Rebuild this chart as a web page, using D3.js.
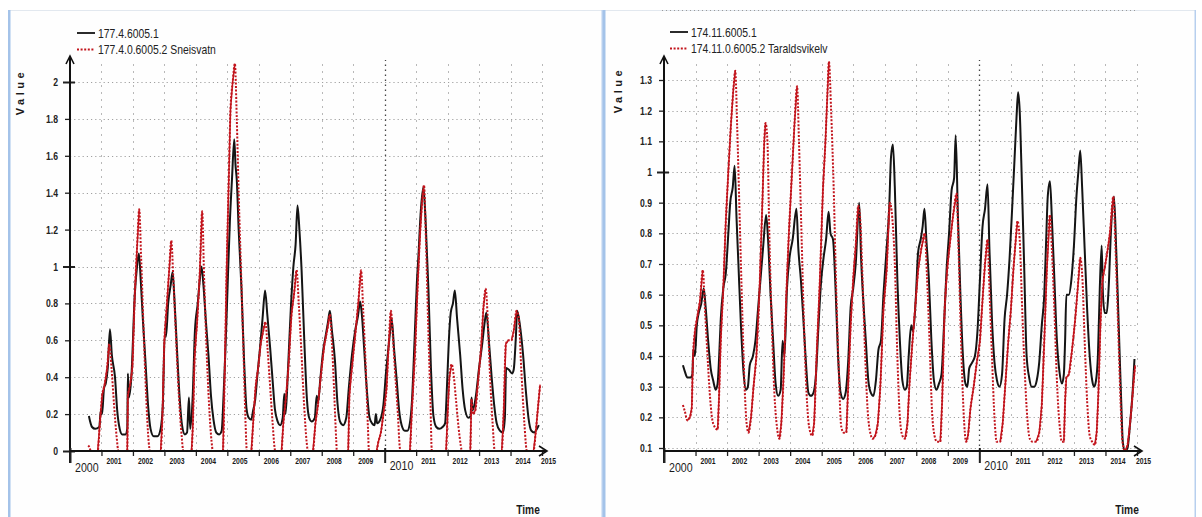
<!DOCTYPE html>
<html>
<head>
<meta charset="utf-8">
<script src="https://cdn.jsdelivr.net/npm/d3@7"></script>
<style>
    html, body { margin: 0; padding: 0; background: #fff; }
    svg { display: block; }
    text { font-family: "Liberation Sans", "DejaVu Sans", sans-serif; fill: #1a1a1a; }
</style>
</head>
<body>
<svg id="chart" width="1202" height="517"></svg>
<script>
let years = d3.range(2000, 2016),
    bigYears = [2000, 2010],
    leftYTicks = [0, 0.2, 0.4, 0.6, 0.8, 1, 1.2, 1.4, 1.6, 1.8, 2],
    rightYTicks = [0.1, 0.2, 0.3, 0.4, 0.5, 0.6, 0.7, 0.8, 0.9, 1, 1.1, 1.2, 1.3],
    leftNames = ["177.4.6005.1", "177.4.0.6005.2 Sneisvatn"],
    rightNames = ["174.11.6005.1", "174.11.0.6005.2 Taraldsvikelv"];

// [decimal year, value]
let sneisBlack = [
    [2000.60, 0.19], [2000.70, 0.13], [2000.80, 0.12], [2000.93, 0.13], [2000.98, 0.22], [2001.02, 0.20],
    [2001.08, 0.34], [2001.14, 0.37], [2001.20, 0.45], [2001.27, 0.66], [2001.33, 0.52], [2001.43, 0.40],
    [2001.50, 0.22], [2001.58, 0.12], [2001.66, 0.09], [2001.76, 0.09], [2001.82, 0.12], [2001.84, 0.42],
    [2001.87, 0.29], [2001.95, 0.40], [2002.06, 0.85], [2002.13, 1.00], [2002.19, 1.07], [2002.25, 0.92],
    [2002.32, 0.70], [2002.40, 0.48], [2002.48, 0.25], [2002.56, 0.12], [2002.66, 0.08], [2002.78, 0.08],
    [2002.88, 0.12], [2002.95, 0.25], [2003.01, 0.63], [2003.05, 0.62], [2003.12, 0.80], [2003.20, 0.90],
    [2003.26, 0.97], [2003.32, 0.82], [2003.40, 0.55], [2003.48, 0.30], [2003.56, 0.14], [2003.65, 0.09],
    [2003.72, 0.10], [2003.78, 0.29], [2003.82, 0.12], [2003.90, 0.30], [2003.97, 0.65], [2004.06, 0.80],
    [2004.12, 0.92], [2004.18, 1.00], [2004.24, 0.90], [2004.32, 0.70], [2004.40, 0.52], [2004.48, 0.30],
    [2004.56, 0.17], [2004.65, 0.10], [2004.74, 0.09], [2004.82, 0.11], [2004.88, 0.30], [2004.94, 0.55],
    [2005.02, 0.95], [2005.08, 1.24], [2005.15, 1.48], [2005.22, 1.69], [2005.26, 1.55], [2005.30, 1.47],
    [2005.36, 1.20], [2005.45, 0.88], [2005.53, 0.50], [2005.61, 0.23], [2005.68, 0.18], [2005.76, 0.17],
    [2005.82, 0.22], [2005.88, 0.27], [2005.96, 0.42], [2006.04, 0.56], [2006.12, 0.72], [2006.20, 0.87],
    [2006.27, 0.74], [2006.36, 0.56], [2006.44, 0.38], [2006.51, 0.23], [2006.60, 0.16], [2006.68, 0.14],
    [2006.76, 0.18], [2006.81, 0.31], [2006.85, 0.20], [2006.93, 0.45], [2007.02, 0.78], [2007.10, 1.00],
    [2007.17, 1.12], [2007.23, 1.33], [2007.29, 1.20], [2007.36, 0.98], [2007.45, 0.58], [2007.53, 0.28],
    [2007.60, 0.18], [2007.68, 0.16], [2007.78, 0.18], [2007.84, 0.30], [2007.88, 0.26], [2007.96, 0.40],
    [2008.05, 0.55], [2008.12, 0.62], [2008.20, 0.70], [2008.26, 0.76], [2008.32, 0.66], [2008.42, 0.49],
    [2008.50, 0.26], [2008.58, 0.16], [2008.68, 0.14], [2008.78, 0.18], [2008.86, 0.34], [2008.96, 0.52],
    [2009.06, 0.65], [2009.15, 0.73], [2009.22, 0.81], [2009.27, 0.75], [2009.35, 0.55], [2009.43, 0.34],
    [2009.52, 0.18], [2009.60, 0.15], [2009.68, 0.14], [2009.72, 0.20], [2009.76, 0.15], [2009.86, 0.17],
    [2009.96, 0.25], [2010.04, 0.42], [2010.12, 0.56], [2010.18, 0.66], [2010.22, 0.72], [2010.30, 0.55],
    [2010.38, 0.39], [2010.46, 0.22], [2010.54, 0.14], [2010.64, 0.11], [2010.72, 0.11], [2010.80, 0.15],
    [2010.86, 0.25], [2010.95, 0.60], [2011.02, 0.90], [2011.08, 1.08], [2011.14, 1.28], [2011.23, 1.43],
    [2011.30, 1.25], [2011.39, 0.88], [2011.47, 0.45], [2011.55, 0.19], [2011.64, 0.13], [2011.74, 0.12],
    [2011.84, 0.13], [2011.92, 0.15], [2011.98, 0.35], [2012.04, 0.60], [2012.10, 0.75], [2012.17, 0.80],
    [2012.23, 0.87], [2012.30, 0.72], [2012.40, 0.52], [2012.48, 0.33], [2012.56, 0.22], [2012.66, 0.18],
    [2012.73, 0.19], [2012.76, 0.29], [2012.80, 0.22], [2012.90, 0.30], [2013.00, 0.45], [2013.10, 0.58],
    [2013.18, 0.70], [2013.23, 0.75], [2013.32, 0.58], [2013.40, 0.40], [2013.48, 0.25], [2013.56, 0.15],
    [2013.66, 0.11], [2013.76, 0.10], [2013.82, 0.18], [2013.86, 0.45], [2013.95, 0.44], [2014.05, 0.42],
    [2014.10, 0.44], [2014.17, 0.62], [2014.21, 0.76], [2014.30, 0.68], [2014.40, 0.52], [2014.49, 0.32],
    [2014.57, 0.18], [2014.66, 0.11], [2014.75, 0.10], [2014.84, 0.12], [2014.90, 0.14]
];

let sneisRed = [
    [2000.58, 0.03], [2000.62, 0.02], [2000.66, 0.00], [2000.88, 0.00], [2000.95, 0.15], [2001.02, 0.30],
    [2001.10, 0.36], [2001.18, 0.45], [2001.25, 0.58], [2001.32, 0.45], [2001.40, 0.25], [2001.48, 0.08],
    [2001.54, 0.00], [2001.82, 0.00], [2001.84, 0.30], [2001.90, 0.35], [2001.98, 0.45], [2002.06, 0.85],
    [2002.13, 1.10], [2002.20, 1.31], [2002.26, 1.05], [2002.33, 0.70], [2002.42, 0.30], [2002.50, 0.05],
    [2002.54, 0.00], [2002.88, 0.00], [2002.93, 0.15], [2003.00, 0.60], [2003.06, 0.75], [2003.14, 0.95],
    [2003.22, 1.14], [2003.28, 0.95], [2003.36, 0.65], [2003.46, 0.30], [2003.55, 0.08], [2003.60, 0.00],
    [2003.86, 0.00], [2003.90, 0.12], [2003.96, 0.50], [2004.04, 0.70], [2004.12, 0.95], [2004.20, 1.30],
    [2004.26, 0.95], [2004.34, 0.55], [2004.42, 0.25], [2004.50, 0.05], [2004.54, 0.00], [2004.86, 0.00],
    [2004.92, 0.45], [2004.98, 1.00], [2005.05, 1.50], [2005.10, 1.85], [2005.17, 2.00], [2005.24, 2.10],
    [2005.30, 1.80], [2005.36, 1.40], [2005.44, 0.95], [2005.52, 0.50], [2005.58, 0.15], [2005.62, 0.00],
    [2005.76, 0.00], [2005.82, 0.15], [2005.90, 0.35], [2005.98, 0.45], [2006.06, 0.58], [2006.14, 0.65],
    [2006.21, 0.70], [2006.28, 0.55], [2006.36, 0.35], [2006.44, 0.15], [2006.50, 0.02], [2006.52, 0.00],
    [2006.72, 0.00], [2006.78, 0.15], [2006.84, 0.25], [2006.94, 0.45], [2007.04, 0.74], [2007.12, 0.85],
    [2007.20, 0.98], [2007.27, 0.80], [2007.35, 0.55], [2007.44, 0.25], [2007.52, 0.05], [2007.56, 0.00],
    [2007.72, 0.00], [2007.80, 0.15], [2007.88, 0.25], [2007.98, 0.42], [2008.08, 0.57], [2008.18, 0.66],
    [2008.26, 0.74], [2008.32, 0.60], [2008.40, 0.30], [2008.46, 0.06], [2008.48, 0.00], [2008.84, 0.00],
    [2008.88, 0.30], [2008.96, 0.45], [2009.06, 0.62], [2009.16, 0.80], [2009.25, 0.98], [2009.32, 0.75],
    [2009.40, 0.45], [2009.47, 0.12], [2009.50, 0.00], [2009.74, 0.00], [2009.80, 0.05], [2009.88, 0.10],
    [2009.96, 0.20], [2010.06, 0.34], [2010.12, 0.55], [2010.20, 0.76], [2010.26, 0.62], [2010.33, 0.43],
    [2010.42, 0.20], [2010.48, 0.02], [2010.50, 0.00], [2010.80, 0.00], [2010.86, 0.20], [2010.96, 0.52],
    [2011.05, 0.90], [2011.12, 1.16], [2011.19, 1.35], [2011.25, 1.44], [2011.31, 1.15], [2011.38, 0.70],
    [2011.45, 0.30], [2011.50, 0.00], [2011.95, 0.00], [2012.00, 0.20], [2012.06, 0.40], [2012.13, 0.47],
    [2012.20, 0.40], [2012.27, 0.27], [2012.38, 0.08], [2012.46, 0.00], [2012.72, 0.00], [2012.76, 0.28],
    [2012.80, 0.20], [2012.88, 0.22], [2012.98, 0.40], [2013.06, 0.55], [2013.14, 0.78], [2013.21, 0.88],
    [2013.28, 0.70], [2013.35, 0.40], [2013.43, 0.15], [2013.50, 0.00], [2013.72, 0.00], [2013.78, 0.20],
    [2013.85, 0.58], [2013.93, 0.60], [2014.03, 0.60], [2014.10, 0.65], [2014.19, 0.76], [2014.26, 0.72],
    [2014.34, 0.45], [2014.44, 0.15], [2014.52, 0.00], [2014.73, 0.00], [2014.80, 0.10], [2014.88, 0.25],
    [2014.94, 0.36]
];

let taraBlack = [
    [2000.60, 0.37], [2000.66, 0.35], [2000.74, 0.33], [2000.84, 0.33], [2000.90, 0.34], [2000.93, 0.42],
    [2000.98, 0.40], [2001.04, 0.50], [2001.10, 0.54], [2001.18, 0.57], [2001.26, 0.62], [2001.32, 0.56],
    [2001.40, 0.45], [2001.48, 0.36], [2001.56, 0.32], [2001.64, 0.29], [2001.70, 0.31], [2001.75, 0.40],
    [2001.80, 0.52], [2001.88, 0.62], [2001.96, 0.67], [2002.04, 0.80], [2002.10, 0.90], [2002.18, 0.95],
    [2002.24, 1.02], [2002.30, 0.85], [2002.36, 0.70], [2002.44, 0.50], [2002.52, 0.35], [2002.60, 0.29],
    [2002.66, 0.30], [2002.72, 0.37], [2002.82, 0.40], [2002.90, 0.45], [2002.98, 0.55], [2003.06, 0.65],
    [2003.14, 0.75], [2003.24, 0.86], [2003.30, 0.78], [2003.38, 0.60], [2003.46, 0.45], [2003.54, 0.31],
    [2003.62, 0.27], [2003.70, 0.29], [2003.76, 0.45], [2003.82, 0.40], [2003.90, 0.62], [2003.98, 0.72],
    [2004.08, 0.78], [2004.20, 0.88], [2004.26, 0.75], [2004.34, 0.65], [2004.42, 0.52], [2004.50, 0.38],
    [2004.58, 0.28], [2004.66, 0.27], [2004.74, 0.28], [2004.82, 0.34], [2004.90, 0.50], [2004.98, 0.64],
    [2005.06, 0.72], [2005.14, 0.78], [2005.22, 0.87], [2005.28, 0.80], [2005.36, 0.78], [2005.44, 0.62],
    [2005.52, 0.40], [2005.60, 0.28], [2005.68, 0.26], [2005.76, 0.28], [2005.84, 0.38], [2005.92, 0.56],
    [2006.00, 0.62], [2006.08, 0.70], [2006.19, 0.90], [2006.25, 0.72], [2006.32, 0.58], [2006.40, 0.45],
    [2006.48, 0.32], [2006.56, 0.28], [2006.64, 0.27], [2006.72, 0.32], [2006.80, 0.42], [2006.88, 0.45],
    [2006.96, 0.60], [2007.06, 0.75], [2007.14, 0.88], [2007.20, 1.05], [2007.26, 1.09], [2007.32, 0.95],
    [2007.40, 0.65], [2007.48, 0.45], [2007.56, 0.32], [2007.64, 0.29], [2007.70, 0.30], [2007.76, 0.40],
    [2007.84, 0.50], [2007.90, 0.48], [2007.98, 0.58], [2008.06, 0.74], [2008.14, 0.78], [2008.20, 0.82],
    [2008.26, 0.88], [2008.32, 0.78], [2008.40, 0.65], [2008.48, 0.45], [2008.56, 0.32], [2008.64, 0.29],
    [2008.72, 0.31], [2008.80, 0.34], [2008.88, 0.50], [2008.96, 0.68], [2009.04, 0.80], [2009.12, 0.94],
    [2009.20, 0.98], [2009.25, 1.12], [2009.32, 0.86], [2009.40, 0.60], [2009.48, 0.40], [2009.56, 0.31],
    [2009.62, 0.30], [2009.68, 0.36], [2009.78, 0.38], [2009.86, 0.40], [2009.94, 0.48], [2010.02, 0.65],
    [2010.10, 0.82], [2010.18, 0.88], [2010.26, 0.96], [2010.32, 0.75], [2010.40, 0.52], [2010.48, 0.38],
    [2010.56, 0.32], [2010.64, 0.30], [2010.72, 0.34], [2010.80, 0.52], [2010.88, 0.60], [2010.96, 0.72],
    [2011.04, 0.88], [2011.12, 1.05], [2011.18, 1.18], [2011.23, 1.26], [2011.28, 1.20], [2011.34, 1.00],
    [2011.42, 0.70], [2011.50, 0.40], [2011.58, 0.33], [2011.66, 0.30], [2011.74, 0.30], [2011.82, 0.32],
    [2011.90, 0.38], [2011.98, 0.50], [2012.06, 0.60], [2012.12, 0.78], [2012.17, 0.92], [2012.24, 0.97],
    [2012.30, 0.85], [2012.38, 0.65], [2012.46, 0.45], [2012.54, 0.35], [2012.62, 0.31], [2012.68, 0.34],
    [2012.72, 0.45], [2012.76, 0.60], [2012.84, 0.60], [2012.92, 0.65], [2013.00, 0.76], [2013.08, 0.92],
    [2013.14, 1.00], [2013.20, 1.07], [2013.26, 0.95], [2013.34, 0.75], [2013.42, 0.55], [2013.50, 0.40],
    [2013.58, 0.32], [2013.64, 0.30], [2013.70, 0.32], [2013.76, 0.40], [2013.82, 0.62], [2013.88, 0.76],
    [2013.92, 0.60], [2013.98, 0.54], [2014.04, 0.54], [2014.10, 0.62], [2014.18, 0.82], [2014.27, 0.92],
    [2014.34, 0.75], [2014.42, 0.50], [2014.50, 0.25], [2014.55, 0.12], [2014.62, 0.09], [2014.70, 0.10],
    [2014.78, 0.18], [2014.86, 0.28], [2014.92, 0.39]
];

let taraRed = [
    [2000.60, 0.24], [2000.66, 0.22], [2000.74, 0.19], [2000.82, 0.20], [2000.88, 0.23], [2000.92, 0.40],
    [2000.98, 0.48], [2001.06, 0.53], [2001.14, 0.58], [2001.23, 0.68], [2001.30, 0.55], [2001.38, 0.40],
    [2001.45, 0.28], [2001.52, 0.20], [2001.60, 0.17], [2001.70, 0.16], [2001.74, 0.25], [2001.80, 0.45],
    [2001.88, 0.62], [2001.96, 0.84], [2002.04, 1.00], [2002.12, 1.15], [2002.20, 1.27], [2002.26, 1.33],
    [2002.32, 1.15], [2002.40, 0.85], [2002.48, 0.55], [2002.56, 0.29], [2002.62, 0.18], [2002.68, 0.15],
    [2002.76, 0.20], [2002.84, 0.30], [2002.93, 0.40], [2003.03, 0.62], [2003.12, 0.90], [2003.18, 1.10],
    [2003.22, 1.16], [2003.28, 1.10], [2003.34, 0.80], [2003.42, 0.50], [2003.50, 0.28], [2003.58, 0.17],
    [2003.66, 0.13], [2003.72, 0.18], [2003.80, 0.35], [2003.88, 0.60], [2003.96, 0.80], [2004.06, 1.00],
    [2004.14, 1.16], [2004.22, 1.28], [2004.28, 1.10], [2004.36, 0.80], [2004.44, 0.50], [2004.52, 0.28],
    [2004.60, 0.17], [2004.70, 0.14], [2004.76, 0.18], [2004.84, 0.40], [2004.94, 0.64], [2005.04, 0.94],
    [2005.12, 1.10], [2005.18, 1.25], [2005.23, 1.36], [2005.30, 1.20], [2005.38, 0.95], [2005.46, 0.62],
    [2005.54, 0.36], [2005.62, 0.17], [2005.70, 0.15], [2005.78, 0.15], [2005.84, 0.30], [2005.92, 0.50],
    [2006.00, 0.65], [2006.08, 0.76], [2006.16, 0.89], [2006.22, 0.85], [2006.30, 0.64], [2006.38, 0.40],
    [2006.46, 0.22], [2006.54, 0.15], [2006.62, 0.13], [2006.70, 0.14], [2006.78, 0.18], [2006.86, 0.30],
    [2006.96, 0.55], [2007.06, 0.68], [2007.16, 0.90], [2007.24, 0.85], [2007.32, 0.70], [2007.40, 0.40],
    [2007.48, 0.20], [2007.56, 0.14], [2007.64, 0.13], [2007.72, 0.18], [2007.78, 0.30], [2007.86, 0.42],
    [2007.96, 0.55], [2008.06, 0.68], [2008.16, 0.75], [2008.27, 0.80], [2008.34, 0.66], [2008.42, 0.45],
    [2008.50, 0.22], [2008.58, 0.14], [2008.66, 0.12], [2008.76, 0.12], [2008.82, 0.25], [2008.90, 0.55],
    [2008.98, 0.68], [2009.08, 0.78], [2009.17, 0.86], [2009.28, 0.93], [2009.34, 0.75], [2009.42, 0.45],
    [2009.50, 0.22], [2009.58, 0.12], [2009.64, 0.14], [2009.72, 0.23], [2009.82, 0.30], [2009.92, 0.38],
    [2010.02, 0.45], [2010.10, 0.58], [2010.18, 0.70], [2010.26, 0.78], [2010.32, 0.62], [2010.40, 0.40],
    [2010.48, 0.20], [2010.55, 0.12], [2010.66, 0.12], [2010.74, 0.18], [2010.82, 0.30], [2010.92, 0.45],
    [2011.00, 0.55], [2011.08, 0.68], [2011.14, 0.76], [2011.21, 0.84], [2011.28, 0.78], [2011.36, 0.55],
    [2011.44, 0.35], [2011.52, 0.20], [2011.60, 0.13], [2011.70, 0.12], [2011.80, 0.12], [2011.90, 0.15],
    [2011.98, 0.24], [2012.06, 0.45], [2012.14, 0.68], [2012.24, 0.86], [2012.30, 0.75], [2012.38, 0.55],
    [2012.46, 0.32], [2012.54, 0.18], [2012.62, 0.12], [2012.68, 0.12], [2012.72, 0.25], [2012.76, 0.33],
    [2012.84, 0.34], [2012.94, 0.42], [2013.04, 0.52], [2013.12, 0.62], [2013.20, 0.72], [2013.27, 0.65],
    [2013.34, 0.45], [2013.42, 0.25], [2013.50, 0.14], [2013.58, 0.12], [2013.66, 0.11], [2013.72, 0.15],
    [2013.78, 0.29], [2013.84, 0.50], [2013.90, 0.64], [2013.98, 0.69], [2014.06, 0.74], [2014.14, 0.80],
    [2014.25, 0.92], [2014.32, 0.75], [2014.40, 0.50], [2014.48, 0.25], [2014.54, 0.12], [2014.62, 0.09],
    [2014.70, 0.11], [2014.80, 0.20], [2014.88, 0.30], [2014.94, 0.37]
];

let svg = d3.select("#chart");

drawFrame(svg, 8, 603, 10, 517);
drawFrame(svg, 603, 1196, 10, 517);

// faint dotted rule along the top of the right panel
svg.append("line")
    .attr("x1", 662).attr("x2", 1138).attr("y1", 10.5).attr("y2", 10.5)
    .style("stroke", "#9a9a9a").style("stroke-dasharray", "1,3");

drawPanel(svg, {
    xRange: [70, 542], yDomain: [0, 2], yRange: [451, 82], axisY: 451,
    ticks: leftYTicks, names: leftNames, black: sneisBlack, red: sneisRed,
    legendX: 77, legendY: 33, valueX: 20, valueY: 92, timeX: 528
});

drawPanel(svg, {
    xRange: [664, 1137], yDomain: [0.1, 1.3], yRange: [448, 80], axisY: 451,
    ticks: rightYTicks, names: rightNames, black: taraBlack, red: taraRed,
    legendX: 670, legendY: 32, valueX: 618, valueY: 90, timeX: 1127
});

function drawFrame(svg, x0, x1, y0, y1) {
    svg.append("rect")
        .attr("x", x0).attr("y", y0).attr("width", x1 - x0).attr("height", y1 - y0)
        .style("fill", "#fefefe");
    svg.append("line")
        .attr("x1", x0).attr("x2", x1).attr("y1", y0 + 0.5).attr("y2", y0 + 0.5)
        .style("stroke", "#e2e8ef");
    svg.append("rect")
        .attr("x", x0).attr("y", y0).attr("width", 2.5).attr("height", y1 - y0)
        .style("fill", "#a4c3e9");
    svg.append("rect")
        .attr("x", x1 - 1.5).attr("y", y0).attr("width", 1.5).attr("height", y1 - y0)
        .style("fill", "#b7cfee");
}

// narrow text: the original uses a condensed face
function narrowText(sel, x, y, sx) {
    sel.attr("transform", "translate(" + x + "," + y + ") scale(" + sx + ",1)");
}

function drawPanel(svg, o) {
    let g = svg.append("g"),
        x = d3.scaleLinear().domain([2000, 2015]).range(o.xRange),
        y = d3.scaleLinear().domain(o.yDomain).range(o.yRange),
        x0 = x(2000),
        xEnd = x(2015),
        top = 57,
        red = "#c2141c";

    // horizontal grid
    g.selectAll(".hgrid")
        .data(o.ticks.filter(v => v !== 0))
        .enter().append("line")
        .attr("x1", x0).attr("x2", xEnd)
        .attr("y1", d => Math.round(y(d)) + 0.5).attr("y2", d => Math.round(y(d)) + 0.5)
        .style("stroke", "#a0a0a0").style("stroke-dasharray", "1.2,3");

    // vertical grid, one per year
    g.selectAll(".vgrid")
        .data(years.slice(1))
        .enter().append("line")
        .attr("x1", d => Math.round(x(d)) + 0.5).attr("x2", d => Math.round(x(d)) + 0.5)
        .attr("y1", o.axisY).attr("y2", top + 3)
        .style("stroke", d => d === 2010 ? "#444" : "#b8b8b8")
        .style("stroke-width", d => d === 2010 ? 1.3 : 1)
        .style("stroke-dasharray", d => d === 2010 ? "1.5,3.5" : "2,5");

    // series
    let line = d3.line()
        .x(d => x(d[0]))
        .y(d => y(d[1]))
        .curve(d3.curveMonotoneX);

    g.append("path")
        .datum(o.black)
        .attr("d", line)
        .style("fill", "none").style("stroke", "#141414").style("stroke-width", 2);

    g.append("path")
        .datum(o.red)
        .attr("d", line)
        .style("fill", "none").style("stroke", red).style("stroke-width", 2)
        .style("stroke-dasharray", "2,1.6");

    // rising limbs of the red series are drawn solid
    let runs = [], cur = null;
    o.red.forEach((d, i) => {
        let next = o.red[i + 1];
        if (next && next[1] > d[1]) {
            if (!cur) {
                cur = [d];
                runs.push(cur);
            }
            cur.push(next);
        } else {
            cur = null;
        }
    });
    g.selectAll(".rise")
        .data(runs)
        .enter().append("path")
        .attr("d", d3.line().x(d => x(d[0])).y(d => y(d[1])))
        .style("fill", "none").style("stroke", red).style("stroke-width", 1.5);

    // y axis
    let yAxis = g.append("g")
        .attr("transform", "translate(" + x0 + ",0)")
        .call(d3.axisLeft(y).tickValues(o.ticks).tickSize(5).tickPadding(8)
            .tickFormat(d => String(d)));
    yAxis.select(".domain").remove();
    yAxis.selectAll(".tick line")
        .attr("x1", d => Number.isInteger(d) ? 5 : 0)
        .attr("x2", d => Number.isInteger(d) ? -7 : -5)
        .style("stroke", "#222").style("stroke-width", d => Number.isInteger(d) ? 2 : 1.3);
    yAxis.selectAll(".tick text")
        .attr("font-family", null).attr("font-size", null)
        .style("font-size", "10.5px").style("font-weight", "bold").style("fill", "#222")
        .attr("x", null).attr("dy", null)
        .each(function () {
            narrowText(d3.select(this), -12, 3.5, 0.82);
        });

    g.append("line")
        .attr("x1", x0).attr("x2", x0).attr("y1", o.axisY + 12).attr("y2", top)
        .style("stroke", "#111").style("stroke-width", 2);
    g.append("path")
        .attr("d", "M" + (x0 - 4) + "," + (top + 7) + "L" + x0 + "," + (top - 1) + "L" + (x0 + 4) + "," + (top + 7))
        .style("fill", "none").style("stroke", "#111").style("stroke-width", 1.6);

    // x axis
    let xAxis = g.append("g")
        .attr("transform", "translate(0," + o.axisY + ")")
        .call(d3.axisBottom(x).tickValues(years).tickSize(4).tickFormat(""));
    xAxis.select(".domain").remove();
    xAxis.selectAll(".tick line")
        .attr("y1", d => bigYears.includes(d) ? -3 : 0)
        .attr("y2", d => bigYears.includes(d) ? 12 : 5)
        .style("stroke", "#222").style("stroke-width", d => bigYears.includes(d) ? 2 : 1.3);

    g.append("line")
        .attr("x1", x0).attr("x2", xEnd + 4).attr("y1", o.axisY).attr("y2", o.axisY)
        .style("stroke", "#111").style("stroke-width", 2);
    g.append("path")
        .attr("d", "M" + (xEnd - 3) + "," + (o.axisY - 5) + "L" + (xEnd + 5) + "," + o.axisY + "L" + (xEnd - 3) + "," + (o.axisY + 5))
        .style("fill", "none").style("stroke", "#111").style("stroke-width", 1.6);

    g.selectAll(".yearLabel")
        .data(years)
        .enter().append("text")
        .style("font-size", d => bigYears.includes(d) ? "12.5px" : "8.5px")
        .style("font-weight", d => bigYears.includes(d) ? "normal" : "bold")
        .text(d => d)
        .each(function (d) {
            let lx = d === 2015 ? x(d) - 1 : x(d) + 5,
                ly = bigYears.includes(d) ? o.axisY + (d === 2000 ? 21 : 19) : o.axisY + 13;
            narrowText(d3.select(this), lx, ly, bigYears.includes(d) ? 0.85 : 0.8);
        });

    // axis titles
    g.append("text")
        .attr("transform", "translate(" + o.valueX + "," + o.valueY + ") rotate(-90)")
        .attr("text-anchor", "middle")
        .attr("dy", "0.35em")
        .style("font-size", "11px").style("font-weight", "bold").style("letter-spacing", "3.5px")
        .text("Value");

    g.append("text")
        .attr("text-anchor", "middle")
        .style("font-size", "12px").style("font-weight", "bold")
        .text("Time")
        .call(narrowText, o.timeX, 514, 0.85);

    // legend
    let legend = g.append("g").attr("transform", "translate(" + o.legendX + "," + o.legendY + ")");
    legend.append("line")
        .attr("x1", 0).attr("x2", 18).attr("y1", 0).attr("y2", 0)
        .style("stroke", "#141414").style("stroke-width", 1.8);
    legend.append("line")
        .attr("x1", 0).attr("x2", 18).attr("y1", 16.5).attr("y2", 16.5)
        .style("stroke", red).style("stroke-width", 1.8).style("stroke-dasharray", "2,1.6");
    legend.selectAll(".name")
        .data(o.names)
        .enter().append("text")
        .style("font-size", "13px").style("fill", "#222")
        .text(d => d)
        .each(function (d, i) {
            narrowText(d3.select(this), 21, i * 16.5 + 4.5, 0.8);
        });
}
</script>
</body>
</html>
